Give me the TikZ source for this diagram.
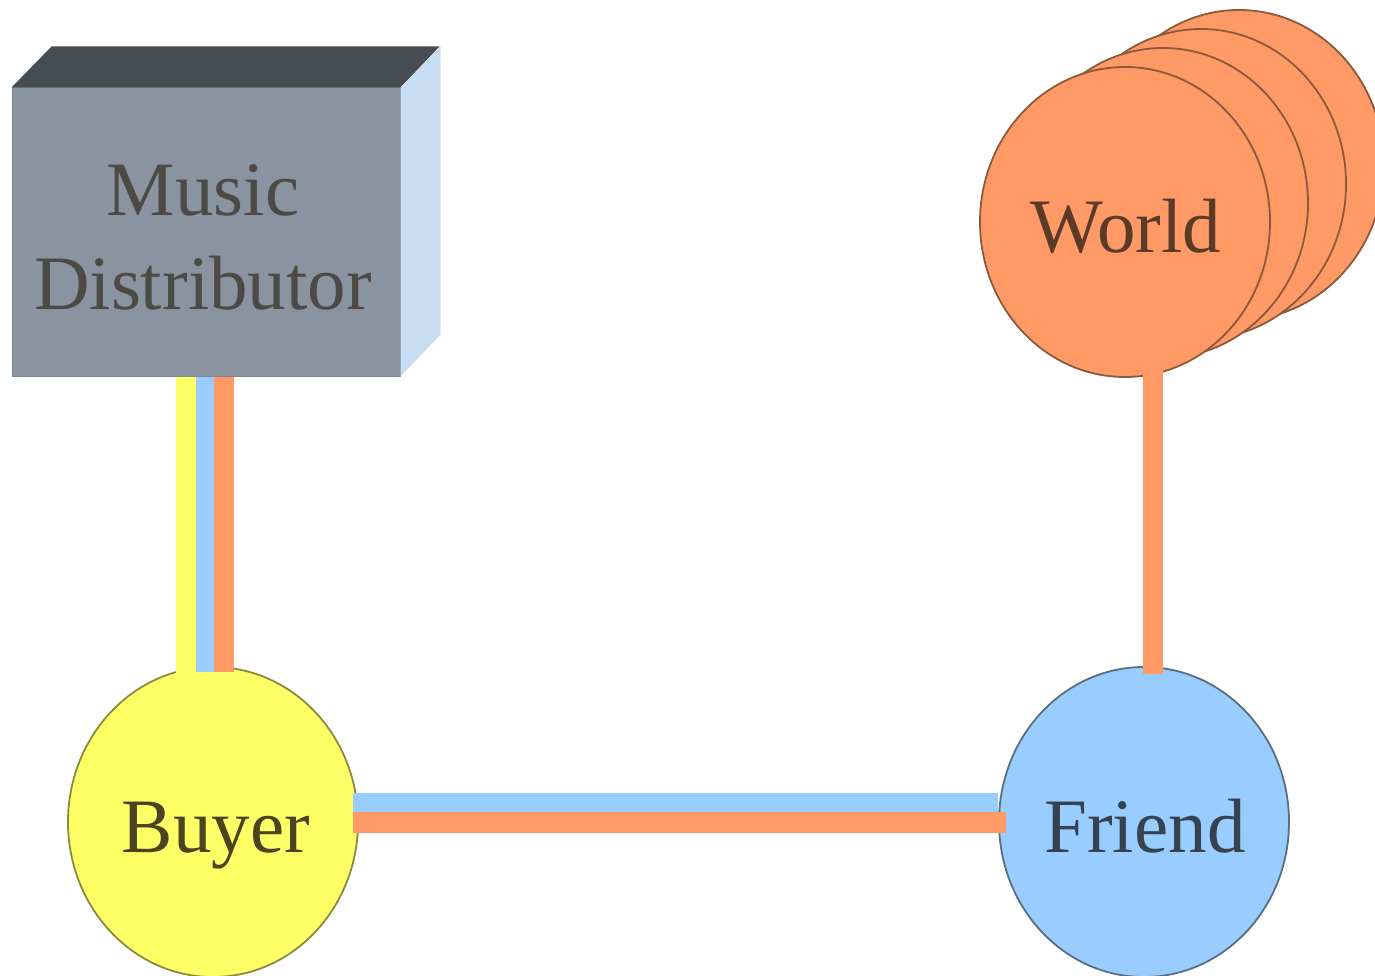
\documentclass[tikz,border=0pt]{standalone}
\usepackage{fontspec}
\setmainfont{Liberation Serif}
\usetikzlibrary{shapes.geometric}
\definecolor{yel}{HTML}{FFFF66}
\definecolor{blu}{HTML}{99CCFF}
\definecolor{ora}{HTML}{FF9966}
\definecolor{boxtop}{HTML}{454C52}
\definecolor{boxfront}{HTML}{8994A0}
\definecolor{boxedge}{HTML}{7C8894}
\definecolor{boxright}{HTML}{C9DDF2}
\definecolor{yelline}{HTML}{8C8A3C}
\definecolor{bluline}{HTML}{5A6E80}
\definecolor{oraline}{HTML}{8A5A3C}
\definecolor{txtgray}{HTML}{4D4A45}
\definecolor{txtyel}{HTML}{4A4420}
\definecolor{txtblu}{HTML}{36424F}
\definecolor{txtora}{HTML}{5C3A28}
\tikzset{
  bigtext/.style={font=\fontsize{77}{94}\selectfont, inner sep=0pt},
  ball/.style={ellipse, minimum width=290pt, minimum height=310pt, inner sep=0pt, line width=1.8pt},
  stripe/.style={line width=20pt, line cap=butt},
}
\begin{document}
\begin{tikzpicture}[x=1pt,y=-1pt]
\useasboundingbox (0,0) rectangle (1375,976);
% Music distributor box
\node[rectangle, minimum width=388pt, minimum height=288pt, inner sep=0pt,
      fill=boxfront, draw=boxedge, line width=1pt] (dist) at (206,232) {};
\fill[boxtop] (dist.north west) -- ++(40,-41) -- ++(388,0) -- (dist.north east) -- cycle;
\fill[boxright] (dist.north east) -- ++(40,-41) -- ++(0,288) -- (dist.south east) -- cycle;
\node[bigtext, text=txtgray, align=center] (distlabel) at (203,237) {Music\\Distributor};
% World stack
\node[ball, fill=ora, draw=oraline] (w4) at (1239,165) {};
\node[ball, fill=ora, draw=oraline] (w3) at (1201,184) {};
\node[ball, fill=ora, draw=oraline] (w2) at (1163,203) {};
\node[ball, fill=ora, draw=oraline] (world) at (1125,222) {};
\node[bigtext, text=txtora, anchor=base] (worldlabel) at (1126,252) {World};
% Buyer and friend
\node[ball, fill=yel, draw=yelline] (buyer) at (213,822) {};
\node[ball, fill=blu, draw=bluline] (friend) at (1144,822) {};
% connectors
\draw[stripe, yel] ([xshift=-20pt]dist.south) -- ([xshift=-20pt,yshift=-8pt]dist.south |- buyer.north);
\draw[stripe, blu, line width=18pt] ([xshift=-1pt]dist.south) -- ([xshift=-1pt,yshift=-6pt]dist.south |- buyer.north);
\draw[stripe, ora] ([xshift=18pt]dist.south) -- ([xshift=18pt,yshift=-6pt]dist.south |- buyer.north);
\draw[stripe, blu, line width=19pt] ([yshift=20pt,xshift=-6pt]buyer.east) -- ([yshift=20pt]friend.west);
\draw[stripe, ora, line width=21pt] ([xshift=-6pt]buyer.east) -- ([xshift=8pt]friend.west);
\draw[stripe, ora] ([xshift=28pt,yshift=8pt]world.south) -- ([xshift=28pt,yshift=-8pt]world.south |- friend.north);
% labels
\node[bigtext, text=txtyel, anchor=base] (buyerlabel) at (216,852) {Buyer};
\node[bigtext, text=txtblu, anchor=base] (friendlabel) at (1145,852) {Friend};
\end{tikzpicture}
\end{document}
